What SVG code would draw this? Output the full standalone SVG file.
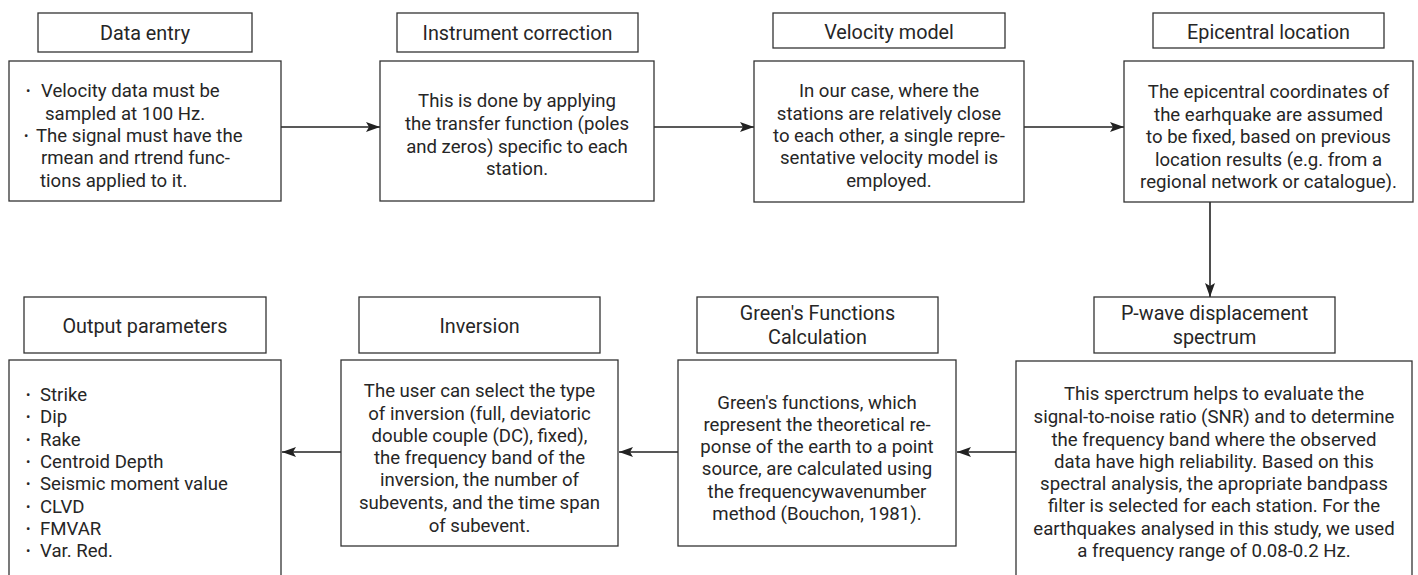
<svg xmlns="http://www.w3.org/2000/svg" width="1418" height="575" viewBox="0 0 1418 575">
<style>
.box{fill:#fff;stroke:#333;stroke-width:1.3}
text{font-family:Roboto,"Liberation Sans",sans-serif;font-size:18.6px;fill:#262626}
.h{font-size:19.8px}
.c{text-anchor:middle}
.b{font-size:13px}
.ln{stroke:#222;stroke-width:1.6;fill:none}
</style>
<defs>
<marker id="ah" viewBox="0 0 14 10" refX="14" refY="5" markerWidth="14" markerHeight="10" markerUnits="userSpaceOnUse" orient="auto">
<path d="M0,0 L14,5 L0,10 L3,5 Z" fill="#222"/>
</marker>
</defs>
<rect width="1418" height="575" fill="#fff"/>
<g id="connectors">
<line class="ln" x1="281" y1="127" x2="380" y2="127" marker-end="url(#ah)"/>
<line class="ln" x1="654" y1="127" x2="754" y2="127" marker-end="url(#ah)"/>
<line class="ln" x1="1024" y1="127" x2="1124" y2="127" marker-end="url(#ah)"/>
<line class="ln" x1="1210" y1="202" x2="1210" y2="297" marker-end="url(#ah)"/>
<line class="ln" x1="1016" y1="452" x2="957" y2="452" marker-end="url(#ah)"/>
<line class="ln" x1="678" y1="452" x2="619" y2="452" marker-end="url(#ah)"/>
<line class="ln" x1="341" y1="452" x2="282" y2="452" marker-end="url(#ah)"/>
</g>
<g id="data-entry">
<rect class="box" x="38" y="13" width="214" height="39"/>
<text class="c h" x="145" y="40">Data entry</text>
<rect class="box" x="9" y="61" width="272" height="140"/>
<text class="b" x="26" y="95">•</text><text x="41" y="97">Velocity data must be</text>
<text x="45" y="120">sampled at 100 Hz.</text>
<text class="b" x="24" y="140">•</text><text x="36" y="142">The signal must have the</text>
<text x="41" y="164">rmean and rtrend func-</text>
<text x="40" y="187">tions applied to it.</text>
</g>
<g id="instrument-correction">
<rect class="box" x="397" y="13" width="241" height="39"/>
<text class="c h" x="517.5" y="40">Instrument correction</text>
<rect class="box" x="380" y="61" width="274" height="140"/>
<text class="c" x="517" y="107">This is done by applying</text>
<text class="c" x="517" y="130">the transfer function (poles</text>
<text class="c" x="517" y="153">and zeros) specific to each</text>
<text class="c" x="517" y="175">station.</text>
</g>
<g id="velocity-model">
<rect class="box" x="773" y="13" width="232" height="35"/>
<text class="c h" x="889" y="39">Velocity model</text>
<rect class="box" x="754" y="61" width="270" height="141"/>
<text class="c" x="889" y="97">In our case, where the</text>
<text class="c" x="889" y="120">stations are relatively close</text>
<text class="c" x="889" y="142">to each other, a single repre-</text>
<text class="c" x="889" y="164">sentative velocity model is</text>
<text class="c" x="889" y="187">employed.</text>
</g>
<g id="epicentral-location">
<rect class="box" x="1153" y="13" width="231" height="35"/>
<text class="c h" x="1268.5" y="39">Epicentral location</text>
<rect class="box" x="1124" y="61" width="289" height="141"/>
<text class="c" x="1268.5" y="98">The epicentral coordinates of</text>
<text class="c" x="1268.5" y="120.5">the earhquake are assumed</text>
<text class="c" x="1268.5" y="143">to be fixed, based on previous</text>
<text class="c" x="1268.5" y="165.5">location results (e.g. from a</text>
<text class="c" x="1268.5" y="188">regional network or catalogue).</text>
</g>
<g id="p-wave-spectrum">
<rect class="box" x="1094" y="297" width="241" height="56"/>
<text class="c h" x="1214.5" y="320">P-wave displacement</text>
<text class="c h" x="1214.5" y="344">spectrum</text>
<rect class="box" x="1016" y="361" width="396" height="230"/>
<text class="c" x="1214" y="400">This sperctrum helps to evaluate the</text>
<text class="c" x="1214" y="423">signal-to-noise ratio (SNR) and to determine</text>
<text class="c" x="1214" y="446">the frequency band where the observed</text>
<text class="c" x="1214" y="468">data have high reliability. Based on this</text>
<text class="c" x="1214" y="490">spectral analysis, the apropriate bandpass</text>
<text class="c" x="1214" y="512">filter is selected for each station. For the</text>
<text class="c" x="1214" y="535">earthquakes analysed in this study, we used</text>
<text class="c" x="1214" y="557">a frequency range of 0.08-0.2 Hz.</text>
</g>
<g id="greens-functions">
<rect class="box" x="697" y="297" width="241" height="56"/>
<text class="c h" x="817.5" y="320">Green's Functions</text>
<text class="c h" x="817.5" y="344">Calculation</text>
<rect class="box" x="678" y="360" width="278" height="186"/>
<text class="c" x="817" y="409">Green's functions, which</text>
<text class="c" x="817" y="431">represent the theoretical re-</text>
<text class="c" x="817" y="453">ponse of the earth to a point</text>
<text class="c" x="817" y="475">source, are calculated using</text>
<text class="c" x="817" y="498">the frequencywavenumber</text>
<text class="c" x="817" y="520">method (Bouchon, 1981).</text>
</g>
<g id="inversion">
<rect class="box" x="359" y="297" width="241" height="56"/>
<text class="c h" x="479.5" y="333">Inversion</text>
<rect class="box" x="341" y="360" width="277" height="186"/>
<text class="c" x="479.5" y="397">The user can select the type</text>
<text class="c" x="479.5" y="420">of inversion (full, deviatoric</text>
<text class="c" x="479.5" y="442">double couple (DC), fixed),</text>
<text class="c" x="479.5" y="464">the frequency band of the</text>
<text class="c" x="479.5" y="486">inversion, the number of</text>
<text class="c" x="479.5" y="509">subevents, and the time span</text>
<text class="c" x="479.5" y="532">of subevent.</text>
</g>
<g id="output-parameters">
<rect class="box" x="24" y="297" width="242" height="56"/>
<text class="c h" x="145" y="333">Output parameters</text>
<rect class="box" x="9" y="360" width="272" height="230"/>
<text class="b" x="26" y="399">•</text><text x="40" y="401">Strike</text>
<text class="b" x="26" y="421">•</text><text x="40" y="423">Dip</text>
<text class="b" x="26" y="443.5">•</text><text x="40" y="445.5">Rake</text>
<text class="b" x="26" y="466">•</text><text x="40" y="468">Centroid Depth</text>
<text class="b" x="26" y="488">•</text><text x="40" y="490">Seismic moment value</text>
<text class="b" x="26" y="510.5">•</text><text x="40" y="512.5">CLVD</text>
<text class="b" x="26" y="533">•</text><text x="40" y="535">FMVAR</text>
<text class="b" x="26" y="555">•</text><text x="40" y="557">Var. Red.</text>
</g>
</svg>
